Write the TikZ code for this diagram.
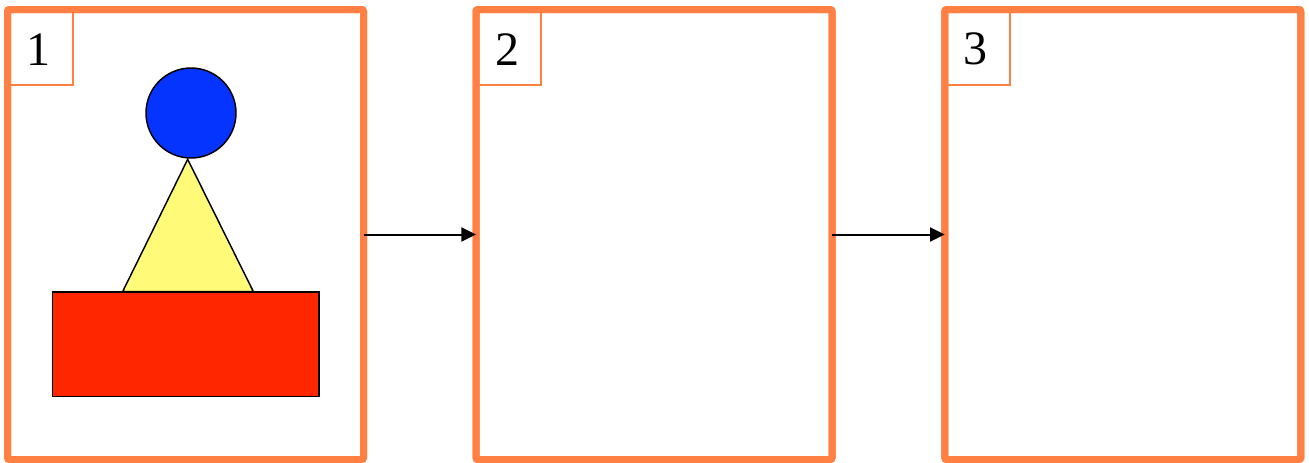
\documentclass[tikz,border=0pt]{standalone}
\usepackage{fontspec}
\setmainfont{Liberation Serif}
\usetikzlibrary{arrows.meta}
\definecolor{frameor}{RGB}{255,128,66}
\definecolor{shblue}{RGB}{5,51,255}
\definecolor{shyellow}{RGB}{255,250,120}
\definecolor{shred}{RGB}{255,38,0}
\tikzset{
  panel/.style={draw=frameor, line width=5.25pt, rectangle, inner sep=0pt, outer sep=0pt,
    minimum width=267pt, minimum height=337.5pt, rounded corners=1.5pt},
  tag/.style={draw=frameor, line width=1.5pt, rectangle, inner sep=0pt, outer sep=0pt,
    minimum width=49pt, minimum height=56.6pt},
  num/.style={inner sep=0pt, font=\fontsize{36}{40}\selectfont},
  flow/.style={line width=1.5pt, -{Triangle[length=11pt,width=10.5pt]}},
  outlined/.style={draw=black, line width=1.1pt},
}
\begin{document}
\begin{tikzpicture}[x=0.75pt,y=-0.75pt]
\useasboundingbox (0,0) rectangle (1309,462);
% panels
\node[panel] (p1) at (185.5,234.5) {};
\node[panel] (p2) at (654,234.5) {};
\node[panel] (p3) at (1122.75,234.5) {};
% tags
\node[tag, anchor=north west] (t1) at (p1.north west) {};
\node[num] (n1) at ([xshift=-1.2pt,yshift=-1.5pt]t1.center) {1};
\node[tag, anchor=north west] (t2) at (p2.north west) {};
\node[num] (n2) at ([xshift=-1.2pt,yshift=-1.5pt]t2.center) {2};
\node[tag, anchor=north west] (t3) at (p3.north west) {};
\node[num] (n3) at ([xshift=-1.2pt,yshift=-1.5pt]t3.center) {3};
% redraw panel frames over tags
\node[panel] at (p1.center) {};
\node[panel] at (p2.center) {};
\node[panel] at (p3.center) {};
% shapes in panel 1
\coordinate (apex) at (187.7,159.3);
\coordinate (bl) at (122.7,291.5);
\coordinate (br) at (253.3,291.5);
\draw[outlined, fill=shyellow, line join=miter] (apex) -- (bl) -- (br) -- cycle;
\node[outlined, fill=shred, rectangle, minimum width=200pt, minimum height=78.5pt, inner sep=0pt, anchor=north west] (base) at (51.7,291.3) {};
\node[outlined, fill=shblue, circle, minimum size=67.5pt, inner sep=0pt] (ball) at (191,113) {};
% connectors
\draw[flow] (p1.east) -- (p2.west);
\draw[flow] (p2.east) -- (p3.west);
\end{tikzpicture}
\end{document}
